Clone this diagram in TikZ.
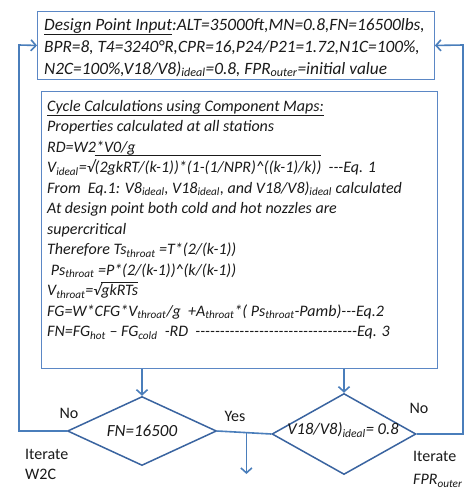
\documentclass[tikz,border=0pt]{standalone}
\usepackage{fontspec}
\setmainfont{Carlito}[Ligatures=TeXOff]
\usetikzlibrary{shapes.geometric,arrows.meta,calc}
\definecolor{boxblue}{HTML}{5B87C5}
\definecolor{lineblue}{HTML}{4A7EBB}
\definecolor{diablue}{HTML}{3A64A0}
\definecolor{txt}{HTML}{1A1A1A}
\newlength\vincw
\newcommand\vinc[2]{\settowidth\vincw{#2}\rlap{\smash{\rule[#1]{\vincw}{0.8pt}}}#2}
\newcommand\sbs[1]{\textsubscript{#1}}
\begin{document}
\begin{tikzpicture}[x=1pt,y=-1pt,
  boxframe/.style={draw=boxblue,line width=0.9pt,inner sep=0pt,anchor=north west},
  boxtext/.style={inner sep=0pt,anchor=north west,align=left,text=txt},
  dia/.style={diamond,draw=diablue,line width=1.5pt,inner sep=0pt,aspect=1},
  lbl/.style={inner sep=0pt,text=txt,font=\fontsize{16}{20}\selectfont},
  conn/.style={draw=lineblue,line width=1.6pt},
  arr/.style={conn,-{Straight Barb[length=5pt,width=11pt,line width=1.6pt]}}]
\useasboundingbox[fill=white] (0,0) rectangle (474,504);
% boxes
\node[boxframe,minimum width=397pt,minimum height=68pt] (box1) at (37,11) {};
\node[boxframe,minimum width=396pt,minimum height=277pt] (box2) at (41,91) {};
\node[boxtext,font=\fontsize{17.3}{22}\selectfont\itshape] (box1t) at (44,16)
 {\rule{0pt}{14pt}\underline{Design Point Input}:ALT=35000ft,MN=0.8,FN=16500lbs,\\
  BPR=8, T4=3240°R,CPR=16,P24/P21=1.72,N1C=100\%,\\
  N2C=100\%,V18/V8)\sbs{ideal}=0.8, FPR\sbs{outer}=initial value};
\node[boxtext,font=\fontsize{16}{20.5}\selectfont\itshape] (box2t) at (47,97)
 {\rule{0pt}{14pt}\underline{Cycle Calculations using Component Maps:}\\
  Properties calculated at all stations\\
  RD=W2*V0/g\\
  V\sbs{ideal}=√\vinc{1.05em}{(2gkRT/(k-1))*(1-(1/NPR)\textasciicircum((k-1)/k))}~ ---Eq. 1\\
  From~ Eq.1: V8\sbs{ideal}, V18\sbs{ideal}, and V18/V8)\sbs{ideal} calculated\\
  At design point both cold and hot nozzles are\\
  supercritical\\
  Therefore Ts\sbs{throat} =T*(2/(k-1))\\
  \ Ps\sbs{throat} =P*(2/(k-1))\textasciicircum(k/(k-1))\\
  V\sbs{throat}=√\vinc{0.8em}{gkRTs}\\
  FG=W*CFG*V\sbs{throat}/g~ +A\sbs{throat}*( Ps\sbs{throat}-Pamb)---Eq.2\\
  FN=FG\sbs{hot} – FG\sbs{cold}~ -RD~ ---------------------------------Eq. 3};
% decisions
\node[dia,minimum width=149pt,minimum height=69pt] (d1) at (142,431) {};
\node[dia,minimum width=144pt,minimum height=81pt] (d2) at (344,434) {};
\node[lbl,font=\fontsize{17}{20}\selectfont\itshape] (d1t) at (142,431) {FN=16500};
\node[lbl,font=\fontsize{16.5}{20}\selectfont\itshape] (d2t) at (343,430) {V18/V8)\sbs{ideal}= 0.8};
% labels
\node[lbl] (no1) at (69,413) {No};
\node[lbl] (yes) at (235,416) {Yes};
\node[lbl] (no2) at (419,408) {No};
\node[lbl,anchor=north west,align=left,font=\fontsize{16}{20}\selectfont] (it1) at (25,449) {Iterate\\W2C};
\node[lbl,anchor=north west,align=left,font=\fontsize{16}{23}\selectfont] (it2) at (413,451) {Iterate\\\textit{FPR\sbs{outer}}};
% connectors
\coordinate (lc) at (19,45);
\coordinate (rc) at (463,45);
\coordinate (yend) at (246,474);
\draw[arr] (d1.west) -| (lc) -- (box1.west);
\draw[arr] (d2.east) -| (rc) -- (box1.east);
\draw[arr] (d1.north |- box2.south) -- (d1.north);
\draw[arr] (d2.north |- box2.south) -- (d2.north);
\draw[conn] (d1.east) -- (d2.west);
\coordinate (ys) at ($(d1.east)!0.54!(d2.west)$);
\draw[arr] (ys) -- (ys |- yend);
\end{tikzpicture}
\end{document}
